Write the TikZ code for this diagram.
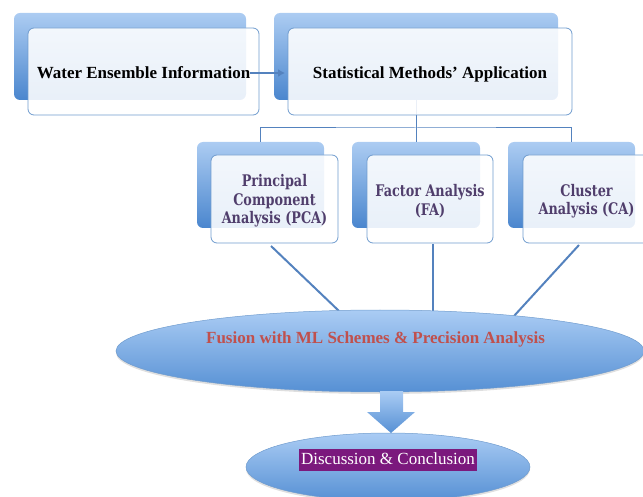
\documentclass[tikz,border=0pt]{standalone}
\usepackage{fontspec}
\setmainfont{Liberation Serif}
\newfontfamily\subfont[FakeStretch=0.8]{DejaVu Serif}
\usetikzlibrary{shapes.geometric,arrows.meta,shadows}
\definecolor{backtop}{RGB}{172,204,242}
\definecolor{backbot}{RGB}{74,134,206}
\definecolor{edgeblue}{RGB}{112,156,206}
\definecolor{lineblue}{RGB}{84,130,190}
\definecolor{subtext}{RGB}{80,62,108}
\definecolor{fusred}{RGB}{192,80,77}
\definecolor{hlpurple}{RGB}{123,25,125}
\definecolor{elltop}{RGB}{170,204,244}
\definecolor{ellbot}{RGB}{86,144,212}
\begin{document}
\begin{tikzpicture}[x=1pt,y=-1pt,
  backbox/.style={rounded corners=6pt, top color=backtop, bottom color=backbot, draw=none, inner sep=0pt, outer sep=0pt},
  frontbox/.style={rounded corners=6pt, draw=edgeblue, line width=0.8pt, fill=white, fill opacity=0.88, inner sep=0pt, outer sep=0pt},
  toptext/.style={font=\fontsize{17}{20}\selectfont\bfseries, inner sep=0pt, anchor=base},
  subtxt/.style={font=\subfont\fontsize{16}{18.5}\selectfont\bfseries, text=subtext, align=center, inner sep=0pt},
  tree/.style={draw=lineblue, line width=1pt},
  feed/.style={draw=lineblue, line width=2pt},
  ell/.style={ellipse, top color=elltop, bottom color=ellbot, draw=edgeblue, line width=0.5pt, inner sep=0pt,
     drop shadow={shadow xshift=0pt, shadow yshift=-2pt, opacity=0.25}}
]
\useasboundingbox (0,0) rectangle (643,497);
\clip (0,0) rectangle (643,497);

% back boxes
\node[backbox, minimum width=232pt, minimum height=87pt] (b1) at (130,56.5) {};
\node[backbox, minimum width=284pt, minimum height=87pt] (b2) at (416,56.5) {};
\node[backbox, minimum width=127pt, minimum height=86pt] (pb) at (260.5,185) {};
\node[backbox, minimum width=128pt, minimum height=86pt] (fb) at (416,185) {};
\node[backbox, minimum width=127pt, minimum height=86pt] (cb) at (571.5,185) {};

% tree connectors
\coordinate (j) at (416,128);
\draw[tree] (b2.south) -- (j);
\draw[tree] (pb.north) |- (j) -| (cb.north);
\draw[tree] (j) -- (fb.north);

% front boxes
\node[frontbox, minimum width=231pt, minimum height=87pt] (f1) at (143.5,71.5) {};
\node[frontbox, minimum width=284pt, minimum height=87pt] (f2) at (430,71.5) {};
\node[frontbox, minimum width=127pt, minimum height=88pt] (pf) at (274.5,199) {};
\node[frontbox, minimum width=126pt, minimum height=88pt] (ff) at (430,199) {};
\node[frontbox, minimum width=127pt, minimum height=88pt] (cf) at (586.5,199) {};

% texts
\node[toptext] (t1) at (143.5,79) {Water Ensemble Information};
\node[toptext] (t2) at (430,79) {Statistical Methods’ Application};
\node[subtxt] (pt) at (274.5,201) {Principal\\Component\\Analysis (PCA)};
\node[subtxt] (ft) at (430,201) {Factor Analysis\\(FA)};
\node[subtxt] (ct) at (586.5,201) {Cluster\\Analysis (CA)};

% arrow box1 -> box2
\coordinate (a2) at (285,73);
\draw[draw=lineblue, line width=1.6pt, -{Latex[length=7pt,width=8pt]}] (t1.east |- a2) -- (a2);

% feeds into ellipse
\coordinate (ps) at (271,246);
\coordinate (pe) at (339,311);
\coordinate (fs) at (433,244);
\coordinate (fe) at (433,311);
\coordinate (cs) at (579,245);
\coordinate (ce) at (514,316);
\draw[feed] (ps) -- (pe);
\draw[feed] (fs) -- (fe);
\draw[feed] (cs) -- (ce);

% ellipses
\node[ell, minimum width=528pt, minimum height=82pt] (e1) at (380,351) {};
\node[font=\fontsize{17}{20}\selectfont\bfseries, text=fusred, inner sep=0pt, anchor=base] (et) at (375.5,344) {Fusion with ML Schemes \& Precision Analysis};

\node[ell, minimum width=284pt, minimum height=68pt] (e2) at (388,467) {};
\node[fill=hlpurple, text=white, font=\fontsize{17}{20}\selectfont, text height=12pt, text depth=4pt, inner xsep=2pt, inner ysep=3pt] (dt) at (388,460) {Discussion \& Conclusion};

% block arrow between ellipses
\path[top color=elltop, bottom color=ellbot, draw=none]
  (380,391) -- (403,391) -- (403,412) -- (415,412) -- (391,433) -- (367,412) -- (380,412) -- cycle;
\end{tikzpicture}
\end{document}
